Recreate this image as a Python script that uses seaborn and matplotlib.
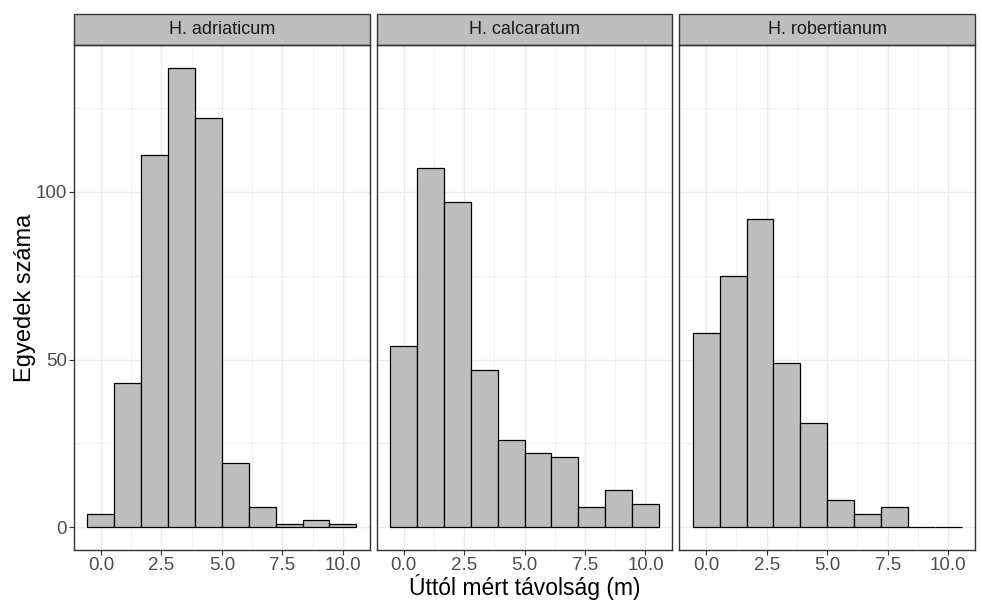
import numpy as np
import pandas as pd
import seaborn as sns
import matplotlib.pyplot as plt
from matplotlib.patches import Rectangle

species = ["H. adriaticum", "H. calcaratum", "H. robertianum"]
# bin centres (m), 10 bins between 0 and 10
distance = [0.0, 1.11, 2.22, 3.33, 4.44, 5.56, 6.67, 7.78, 8.89, 10.0]
adriaticum = [4, 43, 111, 137, 122, 19, 6, 1, 2, 1]
calcaratum = [54, 107, 97, 47, 26, 22, 21, 6, 11, 7]
robertianum = [58, 75, 92, 49, 31, 8, 4, 6, 0, 0]
x_ticks = [0, 2.5, 5, 7.5, 10]
y_ticks = [0, 50, 100]

counts = {"H. adriaticum": adriaticum, "H. calcaratum": calcaratum,
          "H. robertianum": robertianum}
df = pd.concat([pd.DataFrame({"species": s, "dist": distance, "n": counts[s]})
                for s in species], ignore_index=True)

sns.set_style("white")
plt.rcParams["font.family"] = ["Liberation Sans", "DejaVu Sans"]

fig, axes = plt.subplots(1, 3, figsize=(9.82, 6.05), dpi=100, sharey=True)
fig.subplots_adjust(left=0.0754, right=0.9929, top=0.9256, bottom=0.0909, wspace=0.0236)

bw = 10 / 9

for ax, sp in zip(axes, species):
    sub = df[df["species"] == sp]
    sns.histplot(data=sub, x="dist", weights="n", binwidth=bw,
                 binrange=(-bw / 2, 10 + bw / 2), color="#BEBEBE",
                 edgecolor="black", linewidth=0.9, alpha=1, ax=ax, zorder=3)
    ax.set_xlim(-1.111, 11.111)
    ax.set_ylim(-6.85, 143.85)
    ax.set_xticks(x_ticks)
    ax.set_xticklabels(["0.0", "2.5", "5.0", "7.5", "10.0"])
    ax.set_yticks(y_ticks)
    ax.xaxis.set_minor_locator(plt.FixedLocator([-1.25, 1.25, 3.75, 6.25, 8.75, 11.25]))
    ax.yaxis.set_minor_locator(plt.FixedLocator([25, 75, 125]))
    ax.grid(which="major", color="#EBEBEB", linewidth=1.0, zorder=0)
    ax.grid(which="minor", color="#EBEBEB", linewidth=0.5, zorder=0)
    ax.set_axisbelow(True)
    ax.tick_params(which="major", length=3.5, width=0.8, color="#333333",
                   labelsize=13.5, labelcolor="#4D4D4D", pad=1.5)
    ax.tick_params(which="minor", length=0)
    ax.tick_params(axis="y", left=True)
    ax.tick_params(axis="x", bottom=True)
    for s in ax.spines.values():
        s.set_color("#333333")
        s.set_linewidth(1.0)
    ax.set_xlabel("")
    ax.set_ylabel("")
    strip = Rectangle((0, 1), 1, 0.0614, transform=ax.transAxes, clip_on=False,
                      facecolor="#BEBEBE", edgecolor="#333333", linewidth=1.0)
    ax.add_patch(strip)
    ax.text(0.5, 1.0307, sp, transform=ax.transAxes, ha="center", va="center",
            fontsize=13, color="#1A1A1A")

for ax in axes[1:]:
    ax.tick_params(axis="y", left=False, labelleft=False)

axes[0].set_ylabel("Egyedek száma", fontsize=17, color="black", labelpad=0)
fig.text((0.0754 + 0.9929) / 2, 0.008, "Úttól mért távolság (m)", ha="center",
         va="bottom", fontsize=16.5, color="black")

plt.savefig("out.png", dpi=100)
